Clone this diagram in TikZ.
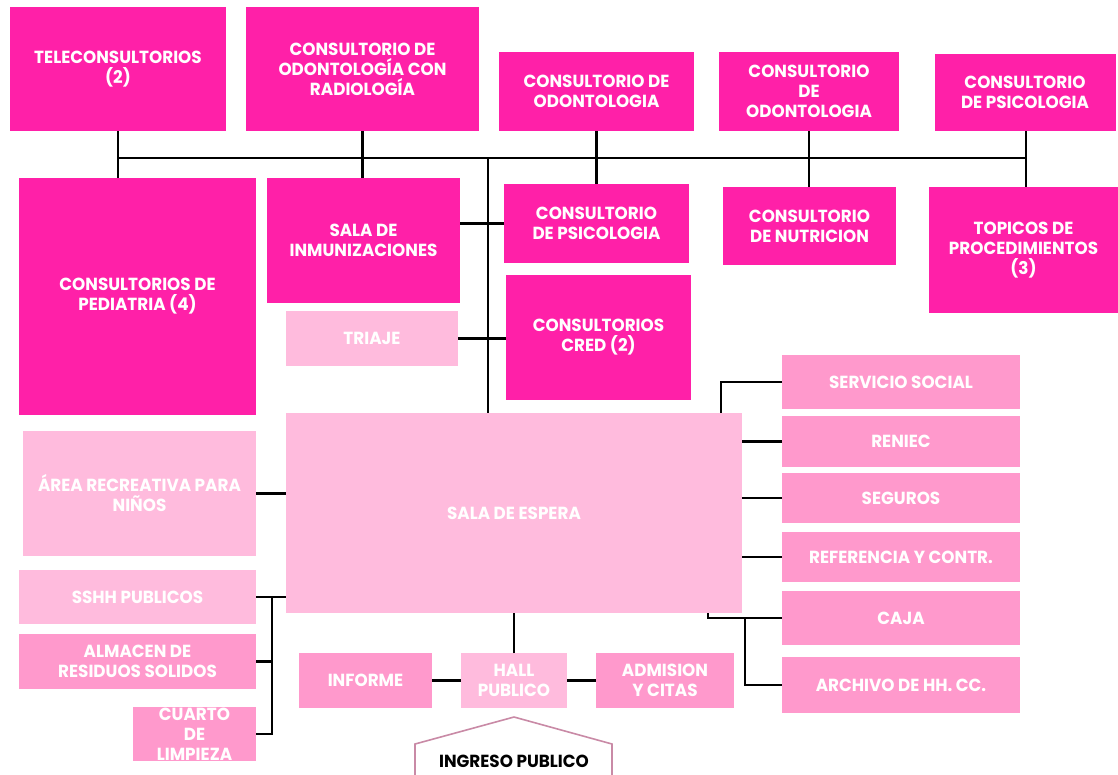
\documentclass[tikz,border=0pt]{standalone}
\usepackage{fontspec}
\setmainfont{Poppins}[FakeStretch=0.96]
\usetikzlibrary{calc}
\definecolor{hot}{RGB}{255,32,168}
\definecolor{mid}{RGB}{255,153,204}
\definecolor{lite}{RGB}{255,187,221}
\definecolor{mauve}{RGB}{201,138,166}
\begin{document}
\begin{tikzpicture}[x=1pt,y=-1pt,
  box/.style={inner sep=0pt, outer sep=0pt, align=center, text=white,
    font=\fontsize{17.5}{20}\selectfont\bfseries},
  hotbox/.style={box, fill=hot},
  midbox/.style={box, fill=mid},
  litebox/.style={box, fill=lite},
  conn/.style={draw=black, line width=2.4pt}
]
\useasboundingbox (0,0) rectangle (1118,774);
% top row
\node[hotbox, minimum width=216pt, minimum height=124pt] (tele) at (118,69) {TELECONSULTORIOS\\(2)};
\node[hotbox, minimum width=233pt, minimum height=124pt] (radio) at (362.5,69) {CONSULTORIO DE\\ODONTOLOGÍA CON\\RADIOLOGÍA};
\node[hotbox, minimum width=195pt, minimum height=79pt] (odon1) at (596.5,91.5) {CONSULTORIO DE\\ODONTOLOGIA};
\node[hotbox, minimum width=180pt, minimum height=79pt] (odon2) at (809,91.5) {CONSULTORIO\\DE\\ODONTOLOGIA};
\node[hotbox, minimum width=181pt, minimum height=77pt] (psico1) at (1025,92.5) {CONSULTORIO\\DE PSICOLOGIA};
% second row
\node[hotbox, minimum width=237pt, minimum height=237pt] (pedia) at (137.5,296.5) {CONSULTORIOS DE\\PEDIATRIA (4)};
\node[hotbox, minimum width=193pt, minimum height=125pt] (inmu) at (363.5,240.5) {SALA DE\\INMUNIZACIONES};
\node[litebox, minimum width=172pt, minimum height=55pt] (triaje) at (372,338.5) {TRIAJE};
\node[hotbox, minimum width=185pt, minimum height=79pt] (psico2) at (596.5,223.5) {CONSULTORIO\\DE PSICOLOGIA};
\node[hotbox, minimum width=173pt, minimum height=78pt] (nutri) at (809.5,226) {CONSULTORIO\\DE NUTRICION};
\node[hotbox, minimum width=189pt, minimum height=126pt] (topicos) at (1023.5,250) {TOPICOS DE\\PROCEDIMIENTOS\\(3)};
\node[hotbox, minimum width=185pt, minimum height=125pt] (cred) at (598.5,337.5) {CONSULTORIOS\\CRED (2)};
% sala
\node[litebox, minimum width=456pt, minimum height=200pt] (sala) at (514,513) {SALA DE ESPERA};
% right column
\node[midbox, minimum width=238pt, minimum height=54pt] (serv) at (901,382) {SERVICIO SOCIAL};
\node[midbox, minimum width=238pt, minimum height=51pt] (reniec) at (901,441.5) {RENIEC};
\node[midbox, minimum width=238pt, minimum height=50pt] (seguros) at (901,498) {SEGUROS};
\node[midbox, minimum width=238pt, minimum height=50pt] (refer) at (901,557) {REFERENCIA Y CONTR.};
\node[midbox, minimum width=238pt, minimum height=54pt] (caja) at (901,618) {CAJA};
\node[midbox, minimum width=238pt, minimum height=56pt] (archivo) at (901,685) {ARCHIVO DE HH. CC.};
% left column
\node[litebox, minimum width=233pt, minimum height=125pt] (recre) at (139.5,493.5) {ÁREA RECREATIVA PARA\\NIÑOS};
\node[litebox, minimum width=237pt, minimum height=54pt] (sshh) at (137.5,597) {SSHH PUBLICOS};
\node[midbox, minimum width=237pt, minimum height=55pt] (almacen) at (137.5,661.5) {ALMACEN DE\\RESIDUOS SOLIDOS};
\node[midbox, minimum width=123pt, minimum height=54pt] (cuarto) at (194.5,734) {CUARTO\\DE\\LIMPIEZA};
% bottom
\node[midbox, minimum width=133pt, minimum height=55pt] (informe) at (365.5,680.5) {INFORME};
\node[litebox, minimum width=106pt, minimum height=55pt] (hall) at (514,680.5) {HALL\\PUBLICO};
\node[midbox, minimum width=138pt, minimum height=55pt] (admision) at (665,680.5) {ADMISION\\Y CITAS};
% ingreso
\draw[draw=mauve, line width=1.6pt, fill=white] (415,790) -- (415,744) -- (514,717) -- (612,744) -- (612,790);
\node[font=\fontsize{17.5}{20}\selectfont\bfseries, text=black, inner sep=0pt] (ingreso) at (514,761) {INGRESO PUBLICO};
% connectors
\coordinate (busL) at (118,158);
\coordinate (busR) at (1026,158);
\coordinate (trunk) at (488,158);
\draw[conn] (busL) -- (busR);
\draw[conn] (tele.south) -- (tele.south |- pedia.north);
\draw[conn] (radio.south) -- (radio.south |- inmu.north);
\draw[conn] (odon1.south) -- (odon1.south |- psico2.north);
\draw[conn] (odon2.south) -- (odon2.south |- nutri.north);
\draw[conn] (busR |- psico1.south) -- (busR |- topicos.north);
\draw[conn] (trunk) -- (trunk |- sala.north);
\draw[conn] (psico2.west) -- (psico2.west -| inmu.east);
\draw[conn] (triaje.east) -- (triaje.east -| cred.west);
\coordinate (ss) at (721,413);
\draw[conn] (serv.west) -| (ss);
\draw[conn] (reniec.west) -- (reniec.west -| sala.east);
\draw[conn] (seguros.west) -- (seguros.west -| sala.east);
\draw[conn] (refer.west) -- (refer.west -| sala.east);
\coordinate (cj) at (708,613);
\draw[conn] (cj) |- (caja.west);
\coordinate (cjb) at (745,618);
\draw[conn] (cjb) |- (archivo.west);
\draw[conn] (recre.east) -- (recre.east -| sala.west);
\draw[conn] (sshh.east) -- (sshh.east -| sala.west);
\coordinate (lv) at (272,597);
\draw[conn] (lv) |- (cuarto.east);
\draw[conn] (lv |- almacen.east) -- (almacen.east);
\draw[conn] (hall.north) -- (hall.north |- sala.south);
\draw[conn] (informe.east) -- (hall.west);
\draw[conn] (hall.east) -- (admision.west);
\end{tikzpicture}
\end{document}
